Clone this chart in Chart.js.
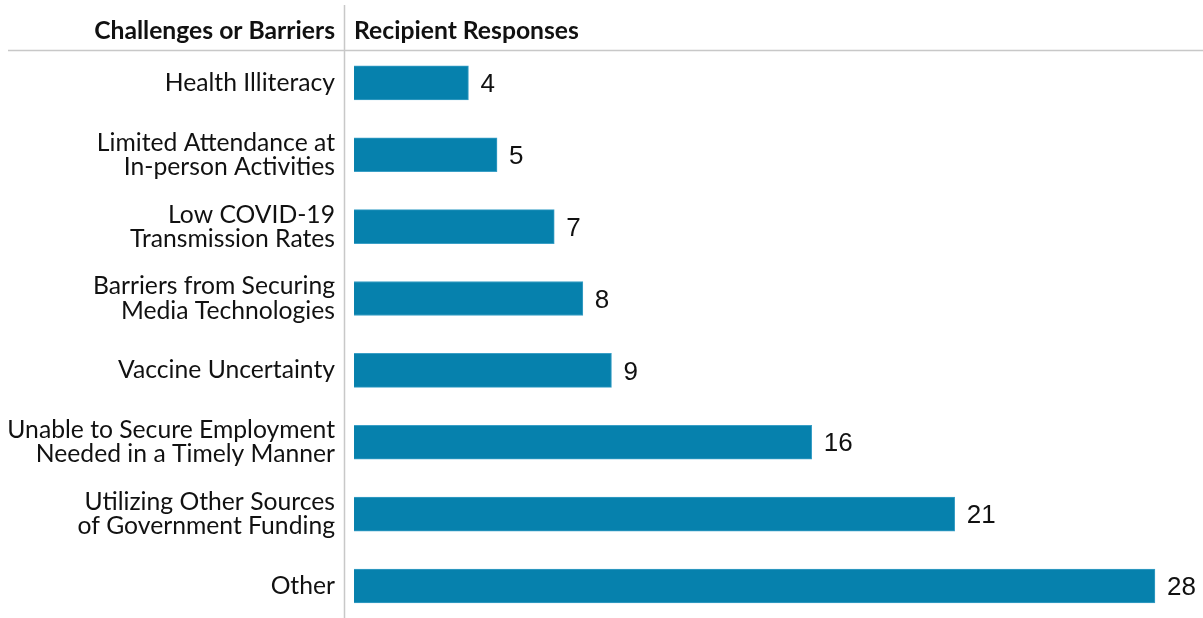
<!DOCTYPE html>
<html>
<head>
<meta charset="utf-8">
<script src="https://cdn.jsdelivr.net/npm/chart.js@4/dist/chart.umd.min.js"></script>
<style>
  html, body { margin: 0; padding: 0; background: #fff; overflow: hidden; }
  #wrap { position: relative; width: 1203px; height: 618px; overflow: hidden; }
  #inner { position: relative; width: 1203px; height: 643px; }
</style>
</head>
<body>
<div id="wrap"><div id="inner"><canvas id="barChart"></canvas></div></div>
<script>
const categories = [
    'Health Illiteracy',
    ['Limited Attendance at', 'In-person Activities'],
    ['Low COVID-19', 'Transmission Rates'],
    ['Barriers from Securing', 'Media Technologies'],
    'Vaccine Uncertainty',
    ['Unable to Secure Employment', 'Needed in a Timely Manner'],
    ['Utilizing Other Sources', 'of Government Funding'],
    'Other'
];
const responses = [4, 5, 7, 8, 9, 16, 21, 28];
const headerLeft = 'Challenges or Barriers';
const headerRight = 'Recipient Responses';

const labelFont = 'Lato, "Open Sans", sans-serif';
const AXIS_X = 344;

// header row, divider lines and value labels
const decorations = {
    id: 'decorations',
    afterDraw(chart) {
        const c = chart.ctx;
        c.save();
        c.strokeStyle = '#c8c8c8';
        c.lineWidth = 1.5;
        c.beginPath();
        c.moveTo(8, 50.5);
        c.lineTo(1203, 50.5);
        c.moveTo(AXIS_X + 0.5, 5);
        c.lineTo(AXIS_X + 0.5, 618);
        c.stroke();

        c.fillStyle = '#111';
        c.font = 'bold 24.7px ' + labelFont;
        c.textBaseline = 'middle';
        c.textAlign = 'right';
        c.fillText(headerLeft, 335, 31);
        c.textAlign = 'left';
        c.fillText(headerRight, 354, 31);

        c.font = '26px "Liberation Sans", Arial, sans-serif';
        const meta = chart.getDatasetMeta(0);
        meta.data.forEach((bar, i) => {
            c.fillText(String(responses[i]), bar.x + 12, bar.y + 2);
        });
        c.restore();
    }
};

new Chart(document.getElementById('barChart'), {
    type: 'bar',
    data: {
        labels: categories,
        datasets: [{
            data: responses,
            backgroundColor: '#0681ad',
            borderColor: '#3a9fc6',
            borderWidth: 1,
            barThickness: 34
        }]
    },
    options: {
        indexAxis: 'y',
        responsive: true,
        maintainAspectRatio: false,
        animation: false,
        layout: { padding: { top: 47, bottom: 0, left: 0, right: 8 } },
        plugins: {
            legend: { display: false },
            tooltip: { enabled: false }
        },
        scales: {
            x: {
                min: -0.35,
                max: 29.4,
                display: false,
                grid: { display: false }
            },
            y: {
                grid: { display: false, drawTicks: false },
                border: { display: false },
                afterFit(scale) { scale.width = AXIS_X; },
                ticks: {
                    color: '#111',
                    padding: 9,
                    font: { family: labelFont, size: 24.7, lineHeight: 0.98 }
                }
            }
        }
    },
    plugins: [decorations]
});
</script>
</body>
</html>
